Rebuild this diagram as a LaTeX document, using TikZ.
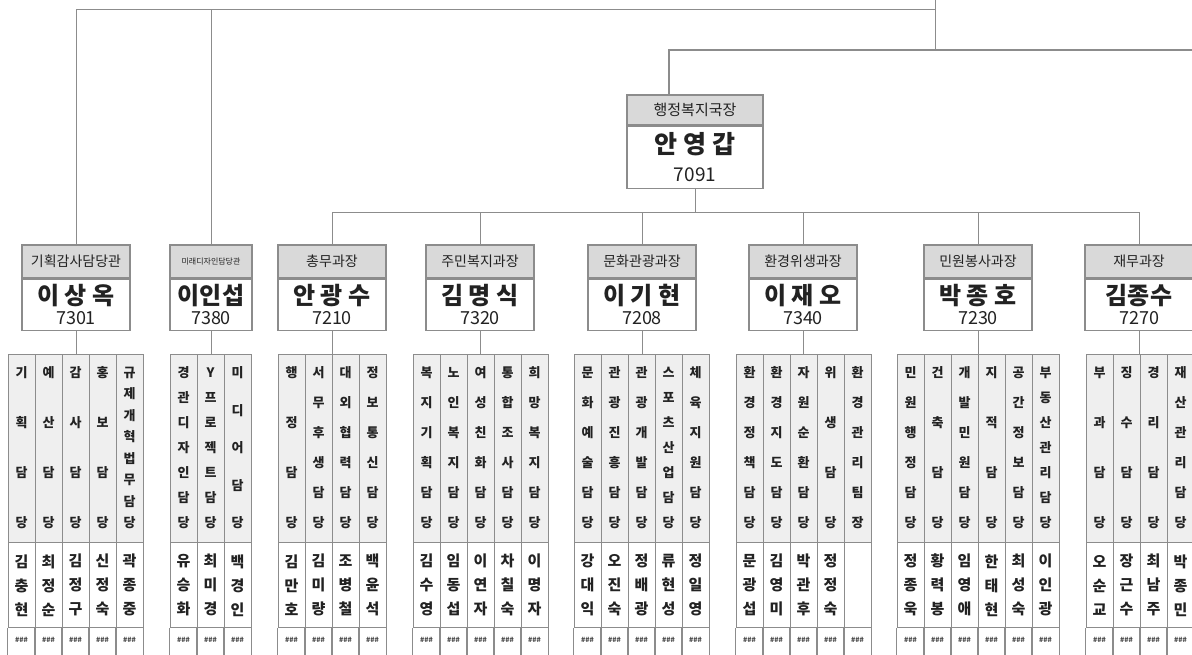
\documentclass[tikz,border=0pt]{standalone}
\usepackage{fontspec}
\setmainfont{Noto Sans CJK KR}
\usetikzlibrary{positioning}

\definecolor{linegray}{HTML}{8C8C8C}
\definecolor{headgray}{HTML}{D9D9D9}
\definecolor{cellgray}{HTML}{EFEFEF}
\definecolor{inkgray}{HTML}{222222}

\newcommand{\namefont}{\bfseries\fontsize{24}{24}\selectfont}

% team head: id, centre x, width, title, name, phone
\newcommand{\headbox}[6]{%
  \node[titlebox, minimum width=#3] (#1-t) at (#2,261.5) {#4};
  \node[namebox, minimum width=#3, below=0pt of #1-t] (#1) {{\namefont #5}\\#6};
}

% one duty column: id, left x, number of letters, duty, staff
\newcommand{\dutycol}[5]{%
  \pgfmathsetmacro\dgap{150/(#3-1)}
  \node[dutycell, font=\bfseries\fontsize{13}{\dgap}\selectfont] (#1) at ({#2+13.5},448) {#4};
  \node[staffcell, below=0pt of #1] (#1-p) {#5};
  \node[numcell, below=0pt of #1-p] (#1-n) {\#\#\#};
  \draw[cellline] (#1-p.south west) -- ++(0,30) (#1-p.south east) -- ++(0,30);
}

\begin{document}
\begin{tikzpicture}[
  x=1pt, y=-1pt,
  link/.style = {draw=linegray, line width=0.9pt},
  trunk/.style = {draw=linegray, line width=1.6pt},
  cellline/.style = {draw=linegray, line width=0.8pt},
  titlebox/.style = {
    rectangle, draw=linegray, line width=1.1pt, fill=headgray, text=inkgray,
    minimum height=33, inner sep=0pt, font=\fontsize{14}{16}\selectfont,
  },
  namebox/.style = {
    rectangle, draw=linegray, line width=1.1pt, fill=white, text=inkgray,
    minimum height=51, inner sep=0pt, align=center, font=\fontsize{18}{20}\selectfont,
  },
  dutycell/.style = {
    rectangle, draw=linegray, line width=0.8pt, fill=cellgray, text=inkgray,
    minimum width=27, minimum height=188, inner sep=0pt, align=center,
  },
  staffcell/.style = {
    rectangle, draw=linegray, line width=0.8pt, fill=white, text=inkgray,
    minimum width=27, minimum height=85, inner sep=0pt, align=center,
    font=\bfseries\fontsize{15}{24}\selectfont,
  },
  numcell/.style = {
    rectangle, minimum width=27, minimum height=22, inner sep=0pt,
    text=inkgray!85, font=\bfseries\fontsize{7}{8}\selectfont,
  },
]
  \useasboundingbox[fill=white] (0,0) rectangle (1192,654);

  % director
  \node[titlebox, minimum width=136, minimum height=30, font=\fontsize{15}{16}\selectfont]
    (guk-t) at (695,110) {행정복지국장};
  \node[namebox, minimum width=136, minimum height=62, below=0pt of guk-t,
    font=\fontsize{19}{28}\selectfont] (guk) {{\bfseries\fontsize{25}{25}\selectfont 안 영 갑}\\7091};

  % team heads
  \headbox{gihoek}{76}{108}{기획감사담당관}{이 상 옥}{7301}
  \headbox{mirae}{211}{82}{{\fontsize{8}{9}\selectfont 미래디자인담당관}}{이인섭}{7380}
  \headbox{chongmu}{332}{108}{총무과장}{안 광 수}{7210}
  \headbox{jumin}{480}{108}{주민복지과장}{김 명 식}{7320}
  \headbox{munhwa}{642}{108}{문화관광과장}{이 기 현}{7208}
  \headbox{hwangyeong}{803}{108}{환경위생과장}{이 재 오}{7340}
  \headbox{minwon}{978}{108}{민원봉사과장}{박 종 호}{7230}
  \headbox{jaemu}{1139}{108}{재무과장}{김종수}{7270}

  % duty columns
  \dutycol{gihoek-1}{8}{4}{기\\획\\담\\당}{김\\충\\현}
  \dutycol{gihoek-2}{35}{4}{예\\산\\담\\당}{최\\정\\순}
  \dutycol{gihoek-3}{62}{4}{감\\사\\담\\당}{김\\정\\구}
  \dutycol{gihoek-4}{89}{4}{홍\\보\\담\\당}{신\\정\\숙}
  \dutycol{gihoek-5}{116}{8}{규\\제\\개\\혁\\법\\무\\담\\당}{곽\\종\\중}

  \dutycol{mirae-1}{170}{7}{경\\관\\디\\자\\인\\담\\당}{유\\승\\화}
  \dutycol{mirae-2}{197}{7}{Y\\프\\로\\젝\\트\\담\\당}{최\\미\\경}
  \dutycol{mirae-3}{224}{5}{미\\디\\어\\담\\당}{백\\경\\인}

  \dutycol{chongmu-1}{278}{4}{행\\정\\담\\당}{김\\만\\호}
  \dutycol{chongmu-2}{305}{6}{서\\무\\후\\생\\담\\당}{김\\미\\량}
  \dutycol{chongmu-3}{332}{6}{대\\외\\협\\력\\담\\당}{조\\병\\철}
  \dutycol{chongmu-4}{359}{6}{정\\보\\통\\신\\담\\당}{백\\윤\\석}

  \dutycol{jumin-1}{413}{6}{복\\지\\기\\획\\담\\당}{김\\수\\영}
  \dutycol{jumin-2}{440}{6}{노\\인\\복\\지\\담\\당}{임\\동\\섭}
  \dutycol{jumin-3}{467}{6}{여\\성\\친\\화\\담\\당}{이\\연\\자}
  \dutycol{jumin-4}{494}{6}{통\\합\\조\\사\\담\\당}{차\\칠\\숙}
  \dutycol{jumin-5}{521}{6}{희\\망\\복\\지\\담\\당}{이\\명\\자}

  \dutycol{munhwa-1}{574}{6}{문\\화\\예\\술\\담\\당}{강\\대\\익}
  \dutycol{munhwa-2}{601}{6}{관\\광\\진\\흥\\담\\당}{오\\진\\숙}
  \dutycol{munhwa-3}{628}{6}{관\\광\\개\\발\\담\\당}{정\\배\\광}
  \dutycol{munhwa-4}{655}{7}{스\\포\\츠\\산\\업\\담\\당}{류\\현\\성}
  \dutycol{munhwa-5}{682}{6}{체\\육\\지\\원\\담\\당}{정\\일\\영}

  \dutycol{hwangyeong-1}{736}{6}{환\\경\\정\\책\\담\\당}{문\\광\\섭}
  \dutycol{hwangyeong-2}{763}{6}{환\\경\\지\\도\\담\\당}{김\\영\\미}
  \dutycol{hwangyeong-3}{790}{6}{자\\원\\순\\환\\담\\당}{박\\관\\후}
  \dutycol{hwangyeong-4}{817}{4}{위\\생\\담\\당}{정\\정\\숙}
  \dutycol{hwangyeong-5}{844}{6}{환\\경\\관\\리\\팀\\장}{}

  \dutycol{minwon-1}{897}{6}{민\\원\\행\\정\\담\\당}{정\\종\\욱}
  \dutycol{minwon-2}{924}{4}{건\\축\\담\\당}{황\\력\\봉}
  \dutycol{minwon-3}{951}{6}{개\\발\\민\\원\\담\\당}{임\\영\\애}
  \dutycol{minwon-4}{978}{4}{지\\적\\담\\당}{한\\태\\현}
  \dutycol{minwon-5}{1005}{6}{공\\간\\정\\보\\담\\당}{최\\성\\숙}
  \dutycol{minwon-6}{1032}{7}{부\\동\\산\\관\\리\\담\\당}{이\\인\\광}

  \dutycol{jaemu-1}{1086}{4}{부\\과\\담\\당}{오\\순\\교}
  \dutycol{jaemu-2}{1113}{4}{징\\수\\담\\당}{장\\근\\수}
  \dutycol{jaemu-3}{1140}{4}{경\\리\\담\\당}{최\\남\\주}
  \dutycol{jaemu-4}{1167}{6}{재\\산\\관\\리\\담\\당}{박\\종\\민}

  % lines from above
  \coordinate (feed) at (935,0);
  \coordinate (rail) at (935,9);
  \coordinate (tap) at (935,50);
  \coordinate (east) at (1192,50);
  \draw[link] (feed) -- (tap);
  \draw[link] (rail) -| (gihoek-t.north);
  \draw[link] (mirae-t.north) -- (mirae-t.north |- rail);
  \draw[trunk] (east) -| ([xshift=-26pt]guk-t.north);

  % director to team heads
  \coordinate (bus) at (0,212);
  \draw[link] (guk.south) -- (guk.south |- bus);
  \draw[link] (chongmu-t.north) |- (jaemu-t.north |- bus) -- (jaemu-t.north);
  \foreach \g in {jumin,munhwa,hwangyeong,minwon}
    \draw[link] (\g-t.north) -- (\g-t.north |- bus);

  % team heads to duty columns
  \foreach \g in {gihoek,mirae,chongmu,jumin,munhwa,hwangyeong,minwon,jaemu}
    \draw[link] (\g.south) -- (\g.south |- \g-1.north);
\end{tikzpicture}
\end{document}
